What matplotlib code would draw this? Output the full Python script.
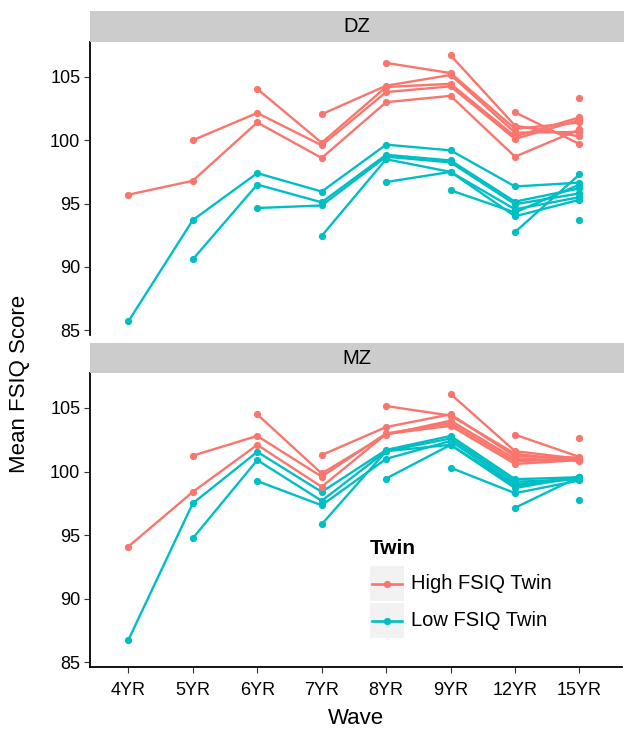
import numpy as np
import matplotlib
matplotlib.use("Agg")
import matplotlib.pyplot as plt
from matplotlib.patches import Rectangle
from matplotlib.lines import Line2D

plt.rcParams['font.family'] = ['Liberation Sans', 'DejaVu Sans']

waves = ["4YR", "5YR", "6YR", "7YR", "8YR", "9YR", "12YR", "15YR"]
panels = ["DZ", "MZ"]
twins = ["High FSIQ Twin", "Low FSIQ Twin"]
colors = ["#F8766D", "#00BFC4"]
n = np.nan

# each row: one cohort (first wave of assessment) across waves
dz_high = [
    [95.7, 96.8, 101.4, 98.6, 103.0, 103.5, 98.7, 100.85],
    [n, 100.0, 102.15, 99.6, 103.8, 104.25, 100.1, 101.6],
    [n, n, 104.05, 99.8, 104.2, 104.45, 100.3, 101.8],
    [n, n, n, 102.05, 104.3, 105.15, 100.6, 100.65],
    [n, n, n, n, 106.1, 105.3, 100.9, 101.4],
    [n, n, n, n, n, 106.7, 101.15, 100.3],
    [n, n, n, n, n, n, 102.2, 99.7],
    [n, n, n, n, n, n, n, 103.3],
]
dz_low = [
    [85.7, 93.7, 97.4, 95.95, 99.65, 99.2, 96.35, 96.65],
    [n, 90.6, 96.5, 95.1, 98.85, 98.4, 95.15, 96.2],
    [n, n, 94.65, 94.85, 98.7, 98.25, 94.95, 95.8],
    [n, n, n, 92.45, 98.5, 97.5, 94.55, 95.5],
    [n, n, n, n, 96.7, 97.5, 94.0, 95.3],
    [n, n, n, n, n, 96.05, 94.3, 96.5],
    [n, n, n, n, n, n, 92.75, 97.3],
    [n, n, n, n, n, n, n, 93.7],
]
mz_high = [
    [94.1, 98.4, 102.1, 98.8, 102.95, 103.6, 100.6, 100.9],
    [n, 101.25, 102.8, 99.6, 103.0, 103.8, 100.8, 101.0],
    [n, n, 104.5, 99.85, 102.9, 104.0, 101.0, 100.9],
    [n, n, n, 101.3, 103.5, 104.5, 101.2, 101.1],
    [n, n, n, n, 105.15, 104.4, 101.4, 100.8],
    [n, n, n, n, n, 106.1, 101.6, 101.0],
    [n, n, n, n, n, n, 102.9, 101.15],
    [n, n, n, n, n, n, n, 102.6],
]
mz_low = [
    [86.75, 97.5, 101.55, 98.4, 101.7, 102.8, 99.4, 99.55],
    [n, 94.75, 100.9, 97.7, 101.6, 102.6, 99.2, 99.4],
    [n, n, 99.25, 97.35, 101.0, 102.4, 99.0, 99.5],
    [n, n, n, 95.85, 101.6, 102.1, 98.7, 99.6],
    [n, n, n, n, 99.45, 102.1, 98.9, 99.45],
    [n, n, n, n, n, 100.3, 98.3, 99.3],
    [n, n, n, n, n, n, 97.15, 99.6],
    [n, n, n, n, n, n, n, 97.8],
]
data = {"DZ": [dz_high, dz_low], "MZ": [mz_high, mz_low]}

yticks = [85, 90, 95, 100, 105]

fig = plt.figure(figsize=(6.24, 7.30), dpi=100)
W, H = 624.0, 730.0

def fbox(x0, y0, x1, y1):
    return [x0 / W, 1 - y1 / H, (x1 - x0) / W, (y1 - y0) / H]

panel_px = {"DZ": (90, 42, 622, 335), "MZ": (90, 373, 622, 667)}
strip_px = {"DZ": (90, 11, 624, 42), "MZ": (90, 343, 624, 373)}

x = np.arange(len(waves))
axes = {}
for p in panels:
    ax = fig.add_axes(fbox(*panel_px[p]))
    axes[p] = ax
    for ti, rows in enumerate(data[p]):
        for row in rows:
            arr = np.array(row, dtype=float)
            ax.plot(x, arr, color=colors[ti], lw=1.7, marker='o', ms=4.2,
                    solid_capstyle='butt', zorder=3 - ti * 0.5)
    ax.set_xlim(-0.595, 7.66)
    ax.set_ylim(84.63, 107.75)
    ax.set_yticks(yticks)
    ax.set_yticklabels([str(v) for v in yticks], fontsize=13)
    ax.set_xticks(x)
    for s in ["top", "right"]:
        ax.spines[s].set_visible(False)
    ax.spines["left"].set_linewidth(1.3)
    ax.spines["bottom"].set_linewidth(1.3)
    ax.tick_params(axis='y', length=4, width=0.8, color='#333333', pad=3)
    if p == "DZ":
        ax.spines["bottom"].set_visible(False)
        ax.tick_params(axis='x', bottom=False, labelbottom=False)
    else:
        ax.set_xticklabels(waves, fontsize=13)
        ax.tick_params(axis='x', length=4, width=0.8, color='#333333', pad=7)
        ax.set_xlabel("Wave", fontsize=16, labelpad=6)
    sax = fig.add_axes(fbox(*strip_px[p]))
    sax.set_facecolor("#CCCCCC")
    sax.set_xticks([]); sax.set_yticks([])
    for s in sax.spines.values():
        s.set_visible(False)
    sax.text(0.5, 0.5, p, ha='center', va='center', fontsize=14.5,
             transform=sax.transAxes)

fig.text(20 / W, 1 - 384 / H, "Mean FSIQ Score", rotation=90, ha='center',
         va='center', fontsize=16)

# legend (inside MZ panel)
fig.text(370 / W, 1 - 549 / H, "Twin", fontsize=15, fontweight='bold',
         ha='left', va='center')
for i, (lab, c) in enumerate(zip(twins, colors)):
    y0 = 566 + i * 37
    fig.patches.append(Rectangle(((370) / W, 1 - (y0 + 35) / H), 34 / W, 35 / H,
                                 transform=fig.transFigure, facecolor="#F2F2F2",
                                 edgecolor='none'))
    yc = 1 - (y0 + 17.5) / H
    fig.lines.append(Line2D([372 / W, 402 / W], [yc, yc], transform=fig.transFigure,
                            color=c, lw=1.9))
    fig.lines.append(Line2D([387 / W], [yc], transform=fig.transFigure, color=c,
                            marker='o', ms=4.2, lw=0))
    fig.text(411 / W, yc, lab, fontsize=14.5, ha='left', va='center')

fig.savefig("out.png", dpi=100)
